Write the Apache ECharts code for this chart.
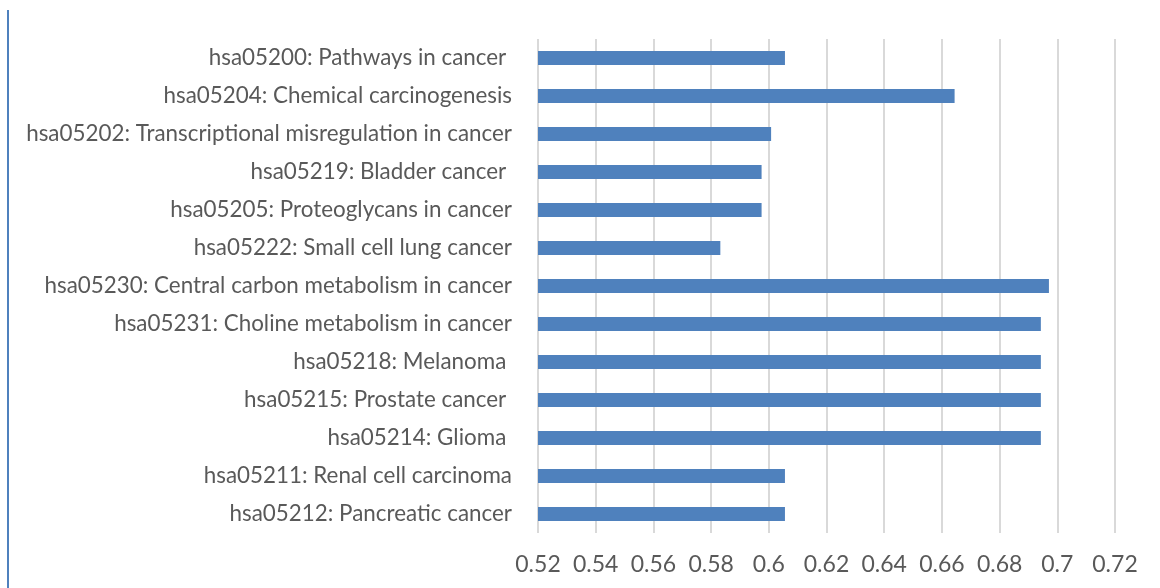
<!DOCTYPE html>
<html>
<head>
<meta charset="utf-8">
<script src="https://cdn.jsdelivr.net/npm/echarts@6/dist/echarts.min.js"></script>
<style>
  html, body { margin: 0; padding: 0; background: #ffffff; }
  #chart { width: 1160px; height: 588px; }
</style>
</head>
<body>
<div id="chart"></div>
<script>
// KEGG cancer pathways, listed top to bottom
const pathways = [
  'hsa05200: Pathways in cancer ',
  'hsa05204: Chemical carcinogenesis',
  'hsa05202: Transcriptional misregulation in cancer',
  'hsa05219: Bladder cancer ',
  'hsa05205: Proteoglycans in cancer',
  'hsa05222: Small cell lung cancer',
  'hsa05230: Central carbon metabolism in cancer',
  'hsa05231: Choline metabolism in cancer',
  'hsa05218: Melanoma ',
  'hsa05215: Prostate cancer ',
  'hsa05214: Glioma ',
  'hsa05211: Renal cell carcinoma',
  'hsa05212: Pancreatic cancer'
];

const scores = [
  0.6056, 0.6644, 0.6008, 0.5975, 0.5975, 0.5832, 0.6971,
  0.6943, 0.6943, 0.6943, 0.6943, 0.6056, 0.6056
];

const axisMin = 0.52;
const axisMax = 0.72;
const axisStep = 0.02;

const chart = echarts.init(document.getElementById('chart'));
const textColor = '#595959';
const fontFamily = 'Lato, "Open Sans", sans-serif';

chart.setOption({
  animation: false,
  backgroundColor: '#ffffff',
  grid: { left: 538, right: 45, top: 39, bottom: 55, containLabel: false },
  xAxis: {
    type: 'value',
    min: axisMin,
    max: axisMax,
    interval: axisStep,
    axisLine: { show: false },
    axisTick: { show: false },
    splitLine: { show: true, lineStyle: { color: '#d9d9d9', width: 2 } },
    axisLabel: {
      color: textColor,
      fontFamily: fontFamily,
      fontSize: 23,
      margin: 20,
      formatter: v => String(parseFloat(v.toFixed(2)))
    }
  },
  yAxis: {
    type: 'category',
    data: pathways,
    inverse: true,
    axisLine: { show: false },
    axisTick: { show: false },
    splitLine: { show: false },
    axisLabel: {
      color: textColor,
      fontFamily: fontFamily,
      fontSize: 22.4,
      margin: 26
    }
  },
  series: [{
    type: 'bar',
    data: scores,
    barWidth: 14,
    itemStyle: { color: '#4f81bd' }
  }],
  graphic: [{
    type: 'rect',
    shape: { x: 7, y: 10, width: 2, height: 578 },
    style: { fill: '#4f81bd' }
  }]
});
</script>
</body>
</html>
